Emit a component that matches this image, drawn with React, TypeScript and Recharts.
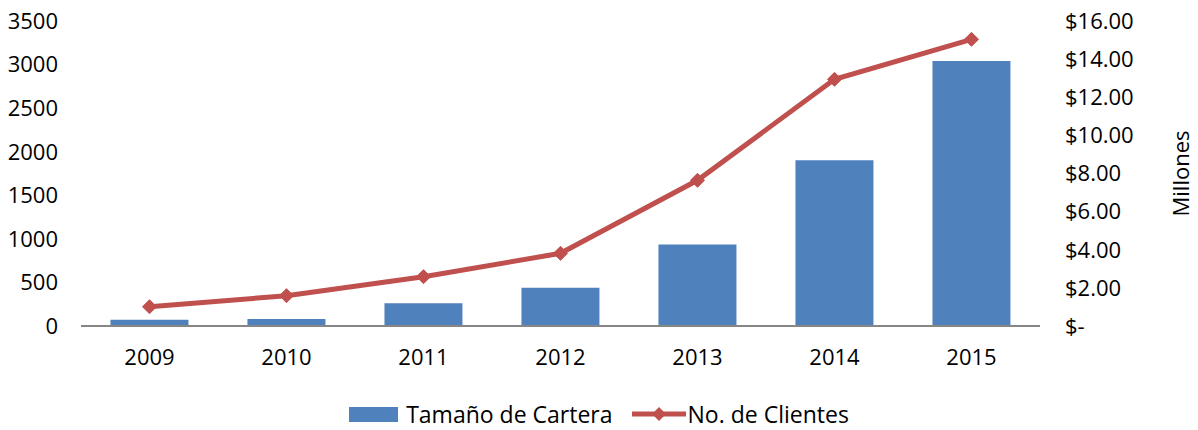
import { ComposedChart, Bar, Line, XAxis, YAxis, Legend } from 'recharts'

// años
const years = ['2009', '2010', '2011', '2012', '2013', '2014', '2015']
// Tamaño de Cartera, millones de $
const cartera = [0.33, 0.37, 1.19, 2.01, 4.27, 8.69, 13.9]
// No. de Clientes
const clientes = [221, 348, 566, 834, 1672, 2831, 3290]

const leftTicks = [0, 500, 1000, 1500, 2000, 2500, 3000, 3500]
const rightTicks = [0, 2, 4, 6, 8, 10, 12, 14, 16]

const data = years.map((year, i) => ({ year, cartera: cartera[i], clientes: clientes[i] }))

const FONT = '"Open Sans", sans-serif'
const BLUE = '#4F81BD'
const RED = '#C0504D'

const money = (v: number) => (v === 0 ? '$-' : `$${v.toFixed(2)}`)

function Diamond(props: any) {
    const { cx, cy } = props
    if (cx == null || cy == null) return null
    const r = 7
    return (
        <path
            d={`M${cx},${cy - r} L${cx + r},${cy} L${cx},${cy + r} L${cx - r},${cy} Z`}
            fill={RED}
            stroke={RED}
        />
    )
}

function LegendContent() {
    return (
        <div style={{ display: 'flex', justifyContent: 'center', alignItems: 'center', fontFamily: FONT, fontSize: 23, lineHeight: '30px', color: '#000' }}>
            <span style={{ display: 'inline-block', width: 49, height: 15, background: BLUE, marginRight: 8 }} />
            <span style={{ marginRight: 19 }}>Tamaño de Cartera</span>
            <svg width={54} height={16} style={{ marginRight: 2 }}>
                <line x1={0} y1={8} x2={54} y2={8} stroke={RED} strokeWidth={5} />
                <path d="M27,1 L34,8 L27,15 L20,8 Z" fill={RED} />
            </svg>
            <span>No. de Clientes</span>
        </div>
    )
}

function MillonesLabel(props: any) {
    const { viewBox } = props
    const x = viewBox.x + viewBox.width - 18
    const y = viewBox.y + viewBox.height / 2
    return (
        <text
            x={x}
            y={y}
            transform={`rotate(-90, ${x}, ${y})`}
            textAnchor="middle"
            dominantBaseline="central"
            fontFamily={FONT}
            fontSize={22}
            fill="#000"
        >
            Millones
        </text>
    )
}

export default function App() {
    return (
        <div style={{ position: 'absolute', left: 0, top: 0, background: '#fff' }}>
            <ComposedChart
                width={1198}
                height={430}
                data={data}
                margin={{ top: 21, right: 0, bottom: 0, left: 0 }}
                barCategoryGap="21.5%"
            >
                <XAxis
                    dataKey="year"
                    axisLine={{ stroke: '#868686', strokeWidth: 2 }}
                    tickLine={false}
                    tickMargin={17}
                    height={74}
                    tick={{ fontFamily: FONT, fontSize: 22, fill: '#000' }}
                />
                <YAxis
                    yAxisId="left"
                    orientation="left"
                    width={81}
                    domain={[0, 3500]}
                    ticks={leftTicks}
                    axisLine={false}
                    tickLine={false}
                    tickMargin={17}
                    tick={{ fontFamily: FONT, fontSize: 22, fill: '#000' }}
                />
                <YAxis
                    yAxisId="right"
                    orientation="right"
                    width={158}
                    domain={[0, 16]}
                    ticks={rightTicks}
                    axisLine={false}
                    tickLine={false}
                    tickMargin={19}
                    tickFormatter={money}
                    tick={{ fontFamily: FONT, fontSize: 22, fill: '#000' }}
                    label={<MillonesLabel />}
                />
                <Legend verticalAlign="bottom" content={<LegendContent />} wrapperStyle={{ bottom: 1 }} />
                <Bar
                    yAxisId="right"
                    dataKey="cartera"
                    name="Tamaño de Cartera"
                    fill={BLUE}
                    isAnimationActive={false}
                />
                <Line
                    yAxisId="left"
                    dataKey="clientes"
                    name="No. de Clientes"
                    stroke={RED}
                    strokeWidth={5}
                    dot={<Diamond />}
                    activeDot={false}
                    isAnimationActive={false}
                />
            </ComposedChart>
        </div>
    )
}
